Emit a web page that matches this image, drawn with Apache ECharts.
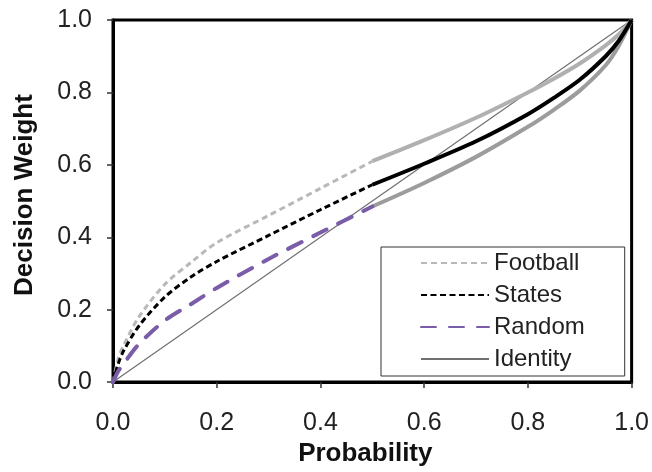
<!DOCTYPE html>
<html>
<head>
<meta charset="utf-8">
<script src="https://cdn.jsdelivr.net/npm/echarts@6/dist/echarts.min.js"></script>
<style>
  html, body { margin: 0; padding: 0; background: #fff; }
  #chart { width: 652px; height: 472px; }
</style>
</head>
<body>
<div id="chart"></div>
<script>
// Probabilities for the dashed (low) segment and the solid (high) segment
var probLow = [0, 0.01, 0.02, 0.05, 0.1, 0.15, 0.2, 0.3, 0.4, 0.5];
var footballLow = [0, 0.065, 0.10, 0.18, 0.27, 0.33, 0.385, 0.46, 0.535, 0.61];
var statesLow   = [0, 0.05, 0.085, 0.155, 0.235, 0.29, 0.333, 0.405, 0.476, 0.545];
var randomLow   = [0, 0.03, 0.05, 0.105, 0.17, 0.215, 0.26, 0.34, 0.413, 0.485];

var probHigh = [0.5, 0.6, 0.7, 0.8, 0.85, 0.9, 0.95, 0.975, 1.0];
var footballHigh = [0.61, 0.668, 0.73, 0.80, 0.838, 0.88, 0.93, 0.96, 1.0];
var statesHigh   = [0.545, 0.603, 0.665, 0.74, 0.785, 0.835, 0.90, 0.942, 1.0];
var randomHigh   = [0.485, 0.55, 0.622, 0.705, 0.752, 0.805, 0.875, 0.928, 1.0];

var identityX = [0, 1];
var identityY = [0, 1];

var tickLabels = ['0.0', '0.2', '0.4', '0.6', '0.8', '1.0'];

function pairs(xs, ys) {
  return xs.map(function (x, i) { return [x, ys[i]]; });
}

var FONT = "'Liberation Sans', Arial, sans-serif";

var chart = echarts.init(document.getElementById('chart'), null, { renderer: 'canvas' });

chart.setOption({
  animation: false,
  backgroundColor: '#ffffff',
  grid: {
    left: 113, right: 20, top: 20, bottom: 89,
    show: true, borderColor: '#000', borderWidth: 3, backgroundColor: 'transparent'
  },
  xAxis: {
    type: 'value', min: 0, max: 1, interval: 0.2,
    name: 'Probability', nameLocation: 'middle', nameGap: 57,
    nameTextStyle: { fontFamily: FONT, fontSize: 26, fontWeight: 'bold', color: '#111', padding: [0, 14, 0, 0] },
    axisLine: { show: true, lineStyle: { color: '#000', width: 3 } },
    axisTick: { show: true, length: 6, lineStyle: { color: '#333', width: 1.5 } },
    axisLabel: {
      fontFamily: FONT, fontSize: 25, color: '#222', margin: 29,
      formatter: function (v) { return tickLabels[Math.round(v / 0.2)]; }
    },
    splitLine: { show: false }
  },
  yAxis: {
    type: 'value', min: 0, max: 1, interval: 0.2,
    name: 'Decision Weight', nameLocation: 'middle', nameGap: 75,
    nameTextStyle: { fontFamily: FONT, fontSize: 26, fontWeight: 'bold', color: '#111', padding: [0, 0, 0, 12] },
    axisLine: { show: true, lineStyle: { color: '#000', width: 3 } },
    axisTick: { show: true, length: 6, lineStyle: { color: '#333', width: 1.5 } },
    axisLabel: {
      fontFamily: FONT, fontSize: 25, color: '#222', margin: 21,
      formatter: function (v) { return tickLabels[Math.round(v / 0.2)]; }
    },
    splitLine: { show: false }
  },
  legend: {
    data: ['Football', 'States', 'Random', 'Identity'],
    orient: 'vertical',
    left: 381, top: 247,
    padding: [4, 40, 5, 39],
    itemWidth: 68, itemHeight: 14, itemGap: 8,
    borderColor: '#333', borderWidth: 1,
    backgroundColor: '#fff',
    itemStyle: { opacity: 0, color: 'rgba(0,0,0,0)', borderWidth: 0 },
    textStyle: { fontFamily: FONT, fontSize: 24, lineHeight: 24, color: '#222' }
  },
  series: [
    {
      name: 'Identity', type: 'line', data: pairs(identityX, identityY),
      symbol: 'none', z: 1,
      itemStyle: { color: '#707070' },
      lineStyle: { color: '#707070', width: 1.2 }
    },
    {
      name: 'Football', type: 'line', data: pairs(probLow, footballLow),
      symbol: 'none', smooth: 0.3, z: 3,
      itemStyle: { color: '#b8b8b8' },
      lineStyle: { color: '#b8b8b8', width: 3, type: [6, 4] }
    },
    {
      name: 'States', type: 'line', data: pairs(probLow, statesLow),
      symbol: 'none', smooth: 0.3, z: 3,
      itemStyle: { color: '#000' },
      lineStyle: { color: '#000000', width: 3, type: [6, 3.5] }
    },
    {
      name: 'Random', type: 'line', data: pairs(probLow, randomLow),
      symbol: 'none', smooth: 0.3, z: 3,
      itemStyle: { color: '#7a5ca8' },
      lineStyle: { color: '#7a5ca8', width: 4, type: [15, 13], cap: 'round' }
    },
    {
      name: 'Football (p ≥ 0.5)', type: 'line', data: pairs(probHigh, footballHigh),
      symbol: 'none', smooth: 0.3, z: 2,
      lineStyle: { color: '#b0b0b0', width: 4 }
    },
    {
      name: 'Random (p ≥ 0.5)', type: 'line', data: pairs(probHigh, randomHigh),
      symbol: 'none', smooth: 0.3, z: 2,
      lineStyle: { color: '#9c9c9c', width: 4 }
    },
    {
      name: 'States (p ≥ 0.5)', type: 'line', data: pairs(probHigh, statesHigh),
      symbol: 'none', smooth: 0.3, z: 3,
      lineStyle: { color: '#000000', width: 4 }
    }
  ]
});
</script>
</body>
</html>
